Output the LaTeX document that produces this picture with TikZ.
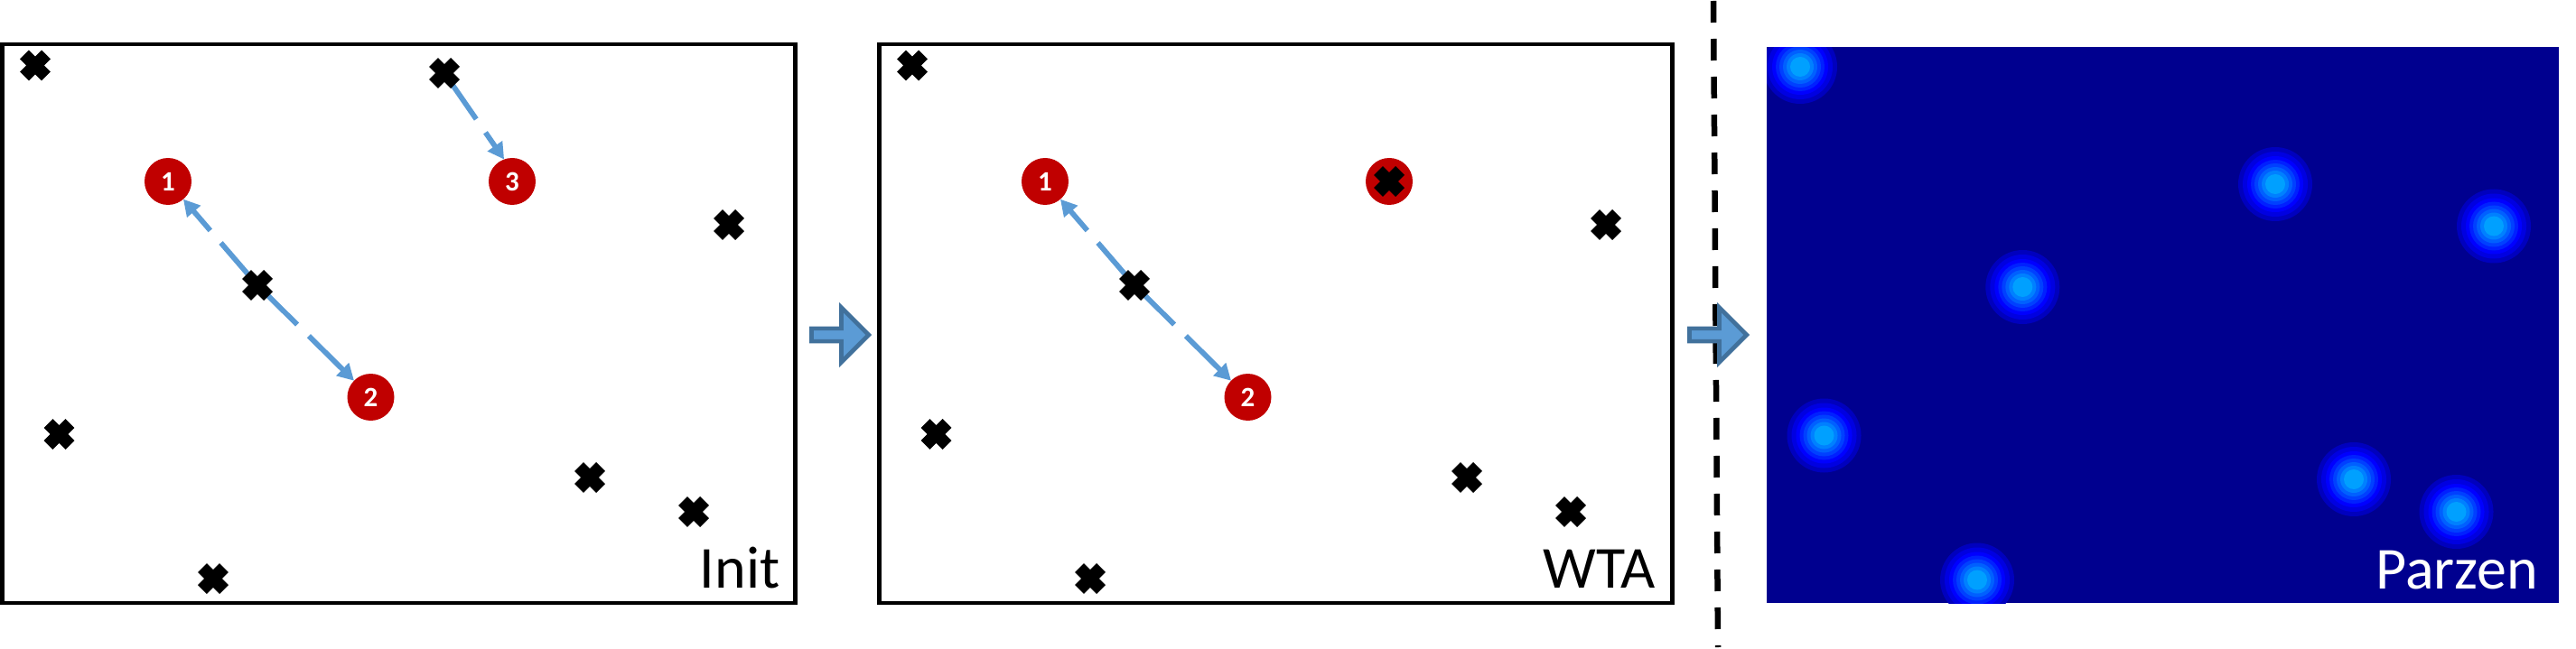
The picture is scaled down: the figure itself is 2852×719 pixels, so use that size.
\documentclass[tikz,border=0pt]{standalone}
\usepackage{fontspec}
\setmainfont{Carlito}
\usetikzlibrary{arrows.meta,backgrounds,positioning,shapes.arrows,shapes.misc}
\definecolor{seedred}{HTML}{C00000}
\definecolor{linkblue}{HTML}{5B9BD5}
\definecolor{edgeblue}{HTML}{41719C}
\definecolor{jetbase}{HTML}{00008F}
\begin{document}
\begin{tikzpicture}[x=1pt,y=-1pt,
    panel/.style={draw,line width=4.6pt,outer sep=0pt,minimum width=878pt,minimum height=619pt},
    xmark/.style={cross out,draw,line width=14pt,inner sep=0pt,outer sep=0pt,minimum size=24pt},
    seed/.style={circle,fill=seedred,text=white,font=\fontsize{31}{31}\selectfont\bfseries,
      inner sep=0pt,outer sep=0pt,minimum size=52pt},
    link/.style={linkblue,line width=5.8pt,dash pattern=on 62pt off 18pt,-{Triangle[length=18pt,width=19pt]}},
    flow/.style={single arrow,draw=edgeblue,fill=linkblue,line width=4.7pt,anchor=tip,inner sep=0pt,outer sep=0pt,
      minimum height=63.3pt,minimum width=60.6pt,single arrow head extend=7.65pt},
    caption/.style={inner sep=0pt,font=\fontsize{66}{66}\selectfont}]
 \useasboundingbox (0,0) rectangle (2852,719);
 % left panel
 \node[panel] (init) at (441.5,358.5) {};
 \node[caption,above left=16pt and 17pt of init.south east] (initname) {Init};
 \foreach \X/\Y [count=\n] in {39/72.5,492/81,807/249,285/316,65.5/481,653/529,768/567,236/641}
  {\node[xmark] (a\n) at (\X,\Y) {};}
 \node[seed] (s1) at (186,201) {1};
 \node[seed] (s2) at (410.5,440) {2};
 \node[seed] (s3) at (567,201) {3};
 % middle panel
 \node[panel] (wta) at (1412.5,358.5) {};
 \node[caption,above left=16pt and 19pt of wta.south east] (wtaname) {WTA};
 \node[seed] (t1) at (1157,201) {1};
 \node[seed] (t2) at (1381.5,440) {2};
 \node[seed] (t3) at (1538,201) {};
 \foreach \X/\Y [count=\n] in {1010/72.5,1538/201,1778/249,1256/316,1036.5/481,1624/529,1739/567,1207/641}
  {\node[xmark] (b\n) at (\X,\Y) {};}
 \begin{scope}[on background layer]
  \draw[link] (a4.center) -- (s1);
  \draw[link] (a4.center) -- (s2);
  \draw[link] (a2.center) -- (s3.110);
  \draw[link] (b4.center) -- (t1);
  \draw[link] (b4.center) -- (t2);
 \end{scope}
 % divider and block arrows
 \coordinate (top) at (1897,1);
 \coordinate (bottom) at (1902,717);
 \draw[line width=6.5pt,dash pattern=on 24pt off 18pt] (top) -- (bottom);
 \node[flow] (step1) at (961.7,371) {};
 \node[flow] (step2) at (1933.7,371) {};
 % right panel
 \node[fill=jetbase,inner sep=0pt,outer sep=0pt,minimum width=877pt,minimum height=615.5pt] (parzen) at (2394.5,360.25) {};
 \begin{scope}
  \clip (parzen.north west) rectangle (parzen.south east);
  \foreach \X/\Y in {1993/74,2519/204,2761/250.5,2239.3/318,2019.5/482.5,2606/531,2719.5/567,2189/642.5}
   \foreach \R/\G/\B in {41/0/190,36/0/225,31/0/255,27/32/255,23/64/255,19/96/255,15/128/255,11/160/255}
    {\fill[fill={rgb,255:red,0;green,\G;blue,\B}] (\X,\Y) circle[radius=\R pt];}
 \end{scope}
 \node[caption,text=white,above left=15pt and 23pt of parzen.south east] (parzenname) {Parzen};
\end{tikzpicture}
\end{document}
